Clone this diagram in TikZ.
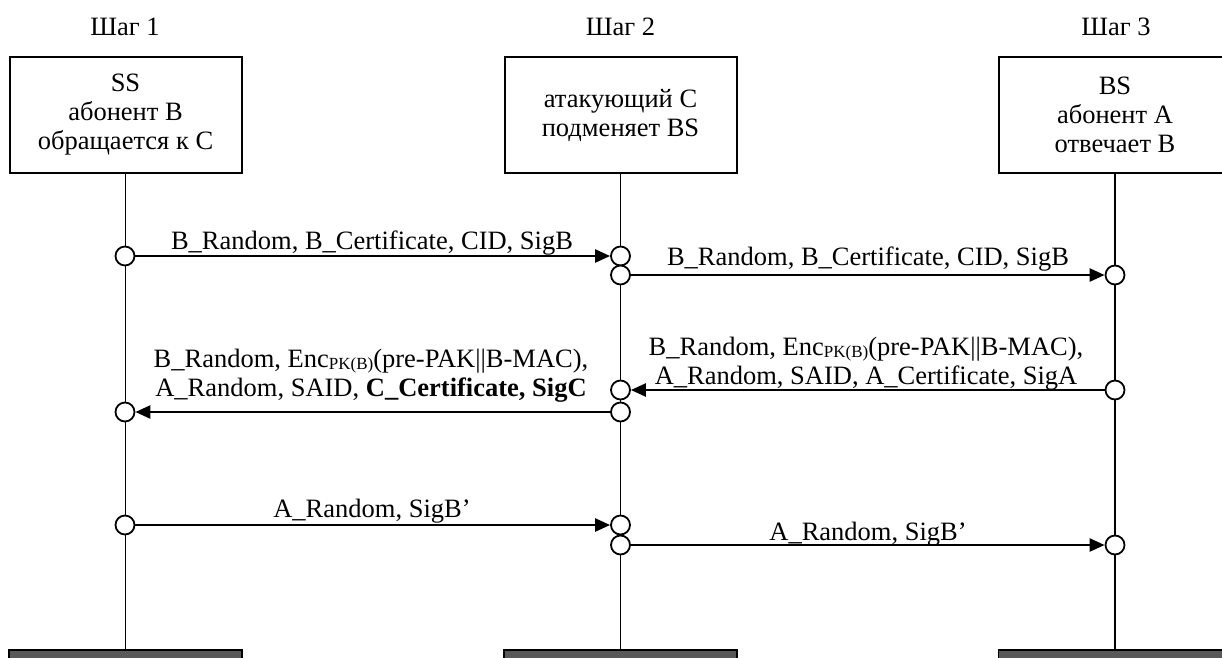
\documentclass[tikz,border=0pt]{standalone}
\usepackage{fontspec}
\setmainfont{Liberation Serif}
\usetikzlibrary{arrows.meta}
\newcommand{\pkb}{\raisebox{-1.5pt}{\fontsize{17}{17}\selectfont PK(B)}}
\begin{document}
\begin{tikzpicture}[x=1pt,y=-1pt,
  txt/.style={font=\fontsize{26.5}{29}\selectfont},
  actor/.style={draw,line width=2pt,minimum width=232pt,minimum height=116pt,align=center,txt,inner sep=0pt},
  bar/.style={draw,line width=1.5pt,fill=black!65,minimum width=233pt,minimum height=14pt,inner sep=0pt},
  life/.style={line width=1.8pt},
  port/.style={circle,draw,line width=1.8pt,fill=white,minimum size=19pt,inner sep=0pt},
  msg/.style={line width=2.4pt,-{Triangle[length=15pt,width=13pt]}},
  lbl/.style={txt,anchor=south,align=center,inner sep=0pt,text depth=0pt},
  steplbl/.style={txt,anchor=base,inner sep=0pt}]
\useasboundingbox (0,0) rectangle (1222,657);
\begin{scope}
\clip (0,0) rectangle (1222,657);
% step titles
\node[steplbl] (t1) at (125,35) {Шаг 1};
\node[steplbl] (t2) at (620.5,35) {Шаг 2};
\node[steplbl] (t3) at (1116,35) {Шаг 3};
% actors
\node[actor] (ss) at (125.5,115) {SS\\абонент В\\обращается к С};
\node[actor] (cc) at (620.5,115) {атакующий С\\подменяет BS};
\node[actor] (bs) at (1115,115) {BS\\абонент А\\отвечает В};
% bottom bars
\node[bar] (b1) at (125.5,657) {};
\node[bar] (b2) at (620.5,657) {};
\node[bar] (b3) at (1115,657) {};
% lifelines
\draw[life] (ss.south) -- (b1.north);
\draw[life] (cc.south) -- (b2.north);
\draw[life] (bs.south) -- (b3.north);
% ports
\node[port] (p1a) at (125,256) {};
\node[port] (p2a) at (620.5,256) {};
\node[port] (p2b) at (620.5,275) {};
\node[port] (p3b) at (1115,275) {};
\node[port] (p3c) at (1115,390) {};
\node[port] (p2c) at (620.5,390) {};
\node[port] (p2d) at (620.5,412) {};
\node[port] (p1d) at (125,412) {};
\node[port] (p1e) at (125,525) {};
\node[port] (p2e) at (620.5,525) {};
\node[port] (p2f) at (620.5,545) {};
\node[port] (p3f) at (1115,545) {};
% messages
\draw[msg] (p1a) -- (p2a);
\draw[msg] (p2b) -- (p3b);
\draw[msg] (p3c) -- (p2c);
\draw[msg] (p2d) -- (p1d);
\draw[msg] (p1e) -- (p2e);
\draw[msg] (p2f) -- (p3f);
% labels
\node[lbl] (l1) at (372,250) {B\_Random, B\_Certificate, CID, SigB};
\node[lbl] (l2) at (868,266) {B\_Random, B\_Certificate, CID, SigB};
\node[lbl] (l3) at (866,385) {B\_Random, Enc\pkb(pre-PAK||B-MAC),\\A\_Random, SAID, A\_Certificate, SigA};
\node[lbl] (l4) at (371,397) {B\_Random, Enc\pkb(pre-PAK||B-MAC),\\A\_Random, SAID, \textbf{C\_Certificate, SigC}};
\node[lbl] (l5) at (372,518) {A\_Random, SigB’};
\node[lbl] (l6) at (868,541) {A\_Random, SigB’};
\end{scope}
\end{tikzpicture}
\end{document}
